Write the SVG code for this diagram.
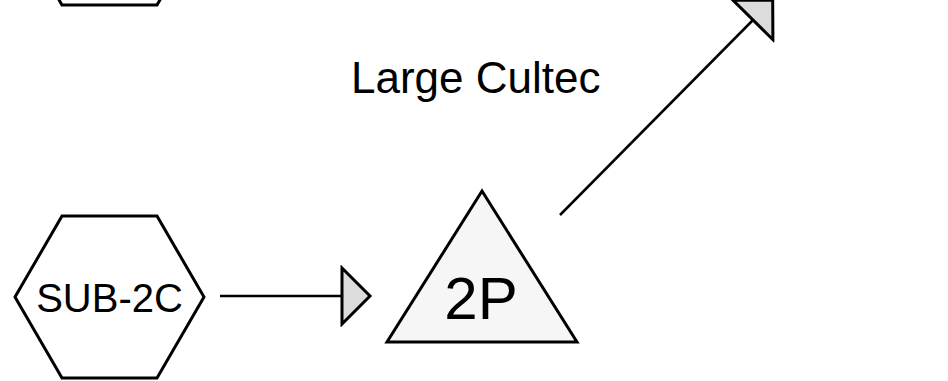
<svg xmlns="http://www.w3.org/2000/svg" width="948" height="381" viewBox="0 0 948 381">
  <defs>
    <style>
      .shape { fill: #ffffff; stroke: #000000; stroke-width: 3; stroke-linejoin: miter; }
      .tri { fill: #f6f6f6; stroke: #000000; stroke-width: 3; stroke-linejoin: miter; }
      .conn { fill: none; stroke: #000000; stroke-width: 2.5; }
      .lbl { font-family: "Liberation Sans", Arial, sans-serif; fill: #000000; }
    </style>
    <marker id="arrow" markerUnits="userSpaceOnUse" viewBox="-3 -31 34 62" markerWidth="34" markerHeight="62" refX="0" refY="0" orient="auto">
      <path d="M0,-28 L28,0 L0,28 Z" fill="#dcdcdc" stroke="#000000" stroke-width="3" stroke-linejoin="miter"/>
    </marker>
  </defs>
  <rect x="0" y="0" width="948" height="381" fill="#ffffff"/>

  <g id="node-top-hex">
    <polygon class="shape" points="15,-76 62,-157 157,-157 204,-76 157,5 62,5"/>
  </g>

  <g id="node-sub-2c">
    <polygon class="shape" points="15,297 62,216 157,216 204,297 157,378 62,378"/>
    <text class="lbl" x="109.5" y="312" font-size="40" text-anchor="middle">SUB-2C</text>
  </g>

  <g id="node-2p">
    <polygon class="tri" points="482,191 577,342 387,342"/>
    <text class="lbl" x="481" y="319" font-size="60" text-anchor="middle">2P</text>
  </g>

  <g id="label-large-cultec">
    <text class="lbl" x="351" y="93" font-size="44">Large Cultec</text>
  </g>

  <g id="connectors">
    <line class="conn" x1="220" y1="296" x2="342" y2="296" marker-end="url(#arrow)"/>
    <line class="conn" x1="560" y1="215" x2="753" y2="20" marker-end="url(#arrow)"/>
  </g>
</svg>
